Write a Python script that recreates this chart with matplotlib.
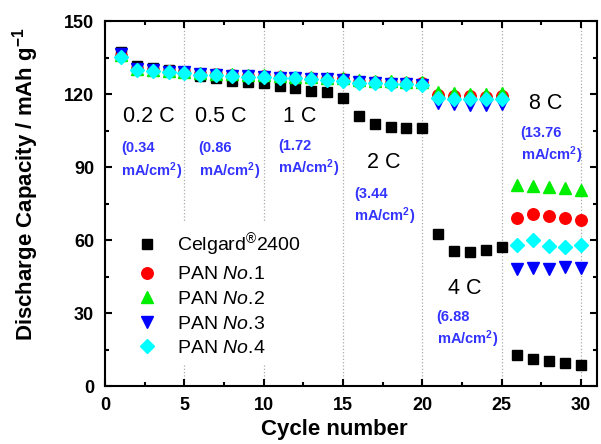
import matplotlib
matplotlib.use("Agg")
from matplotlib import pyplot as plt
from matplotlib.ticker import MultipleLocator

plt.rcParams['font.family'] = ['Liberation Sans', 'DejaVu Sans']
plt.rcParams['mathtext.fontset'] = 'custom'
plt.rcParams['mathtext.rm'] = 'Liberation Sans'
plt.rcParams['mathtext.it'] = 'Liberation Sans:italic'
plt.rcParams['mathtext.bf'] = 'Liberation Sans:bold'

cycles = list(range(1, 31))

celgard = [137.3, 131.8, 131.0, 130.0, 129.0,
           127.5, 126.5, 125.6, 125.0, 124.5,
           123.4, 122.5, 121.5, 120.8, 118.6,
           111.0, 108.0, 106.5, 106.0, 106.3,
           62.7, 55.4, 55.0, 56.0, 57.4,
           13.0, 11.4, 10.2, 9.5, 8.9]
pan1 = [135.8, 130.2, 129.8, 129.4, 129.0,
        128.4, 128.2, 127.9, 127.6, 127.4,
        127.1, 126.9, 126.6, 126.4, 126.1,
        125.2, 125.0, 124.8, 124.7, 124.5,
        119.8, 119.5, 119.2, 119.0, 119.2,
        69.1, 70.8, 70.1, 69.0, 68.4]
pan2 = [136.0, 130.5, 130.0, 129.7, 129.3,
        128.7, 128.5, 128.2, 128.0, 127.8,
        127.5, 127.2, 127.0, 126.8, 126.5,
        125.7, 125.5, 125.3, 125.2, 125.0,
        121.0, 120.5, 120.3, 120.2, 120.5,
        82.8, 82.3, 82.0, 81.3, 80.8]
pan3 = [136.5, 130.3, 129.8, 129.3, 129.0,
        128.3, 128.0, 127.7, 127.4, 127.2,
        126.9, 126.7, 126.4, 126.2, 125.9,
        124.9, 124.6, 124.4, 124.2, 124.0,
        116.3, 116.0, 115.8, 115.8, 116.0,
        48.2, 48.5, 48.2, 49.2, 48.5]
pan4 = [135.2, 129.8, 129.5, 129.0, 128.7,
        128.0, 127.8, 127.5, 127.2, 127.0,
        126.7, 126.5, 126.2, 126.0, 125.6,
        124.7, 124.5, 124.3, 124.2, 124.0,
        118.6, 118.2, 118.0, 118.0, 118.0,
        58.2, 60.1, 57.8, 57.1, 58.2]

rates = ["0.2 C", "0.5 C", "1 C", "2 C", "4 C", "8 C"]
currents = ["0.34", "0.86", "1.72", "3.44", "6.88", "13.76"]
boundaries = [5, 10, 15, 20, 25, 30]

fig = plt.figure(figsize=(6.01, 4.44), dpi=100)
ax = fig.add_axes([0.175, 0.13, 0.818, 0.822])

for b in boundaries:
    ax.axvline(b, color='#aaaaaa', ls=':', lw=0.9, zorder=0)

ax.plot(cycles, celgard, 's', color='black', ms=7.5, label='Celgard$^{\u00ae}$2400')
ax.plot(cycles, pan1, 'o', color='red', ms=8.3, label='PAN $\\mathit{No.}\\!\\mathit{1}$')
ax.plot(cycles, pan2, '^', color='#00ee00', ms=9, label='PAN $\\mathit{No.}\\!\\mathit{2}$')
ax.plot(cycles, pan3, 'v', color='blue', ms=9, label='PAN $\\mathit{No.}\\!\\mathit{3}$')
ax.plot(cycles, pan4, 'D', color='cyan', ms=7.2, label='PAN $\\mathit{No.}\\!\\mathit{4}$')

# rate labels (left x, centre y) and current densities (left x, line 1 y, line 2 y)
rate_pos = [(1.1, 111), (5.66, 111), (11.2, 111), (16.5, 91.8), (21.6, 40), (26.7, 116.4)]
cur_pos = [(0.99, 98, 88.5), (5.9, 98, 88.5), (10.9, 98.8, 89.6),
           (15.7, 79.2, 70), (20.9, 28.4, 19.4), (26.2, 104.2, 94.8)]
for r, (x, y) in zip(rates, rate_pos):
    ax.text(x, y, r, fontsize=15.5, color='black', va='center')
for c, (x, y1, y2) in zip(currents, cur_pos):
    ax.text(x, y1, "(" + c, fontsize=10.5, color='#3333ff', fontweight='bold', va='center')
    ax.text(x, y2, "mA/cm$^{\\mathbf{2}}$)", fontsize=10.5, color='#3333ff',
            fontweight='bold', va='center')

ax.set_xlim(0, 31)
ax.set_ylim(0, 150)
ax.xaxis.set_major_locator(MultipleLocator(5))
ax.xaxis.set_minor_locator(MultipleLocator(2.5))
ax.yaxis.set_major_locator(MultipleLocator(30))
ax.yaxis.set_minor_locator(MultipleLocator(15))
ax.tick_params(which='both', direction='in', top=True, right=True, width=1.5)
ax.tick_params(which='major', length=5, labelsize=13, pad=8)
ax.tick_params(which='minor', length=3)
for lab in ax.get_xticklabels() + ax.get_yticklabels():
    lab.set_fontweight('bold')
for s in ax.spines.values():
    s.set_linewidth(1.5)

ax.set_xlabel("Cycle number", fontsize=16, fontweight='bold')
ax.xaxis.set_label_coords(0.467, -0.09)
ax.set_ylabel("Discharge Capacity / mAh g$^{\\mathbf{-1}}$", fontsize=16, fontweight='bold')
ax.yaxis.set_label_coords(-0.13, 0.553)

leg = ax.legend(loc='upper left', bbox_to_anchor=(0.03, 0.447), fontsize=14, frameon=True,
                facecolor='white', edgecolor='none', framealpha=1, handletextpad=0.55,
                labelspacing=0.36, borderaxespad=0)
leg.set_zorder(5)

fig.savefig("out.png", dpi=100)
